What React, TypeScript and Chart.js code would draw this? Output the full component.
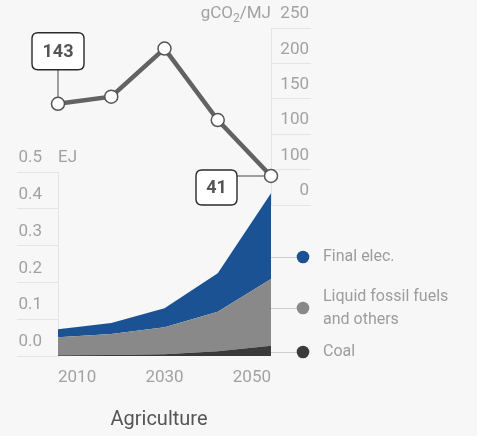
import React, { useEffect, useRef } from 'react';
import Chart from 'chart.js/auto';

// ---- data ----
const years = [2010, 2020, 2030, 2040, 2050];
const xTickYears = [2010, 2030, 2050];
const coal = [0.002, 0.003, 0.005, 0.013, 0.028];
const liquid = [0.049, 0.057, 0.073, 0.107, 0.181];
const finalElec = [0.022, 0.03, 0.052, 0.105, 0.233];
const intensity = [143, 153, 221, 120, 41];
const leftTicks = [0, 0.1, 0.2, 0.3, 0.4, 0.5];
const rightTickValues = [0, 50, 100, 150, 200, 250];
const rightTickLabels = ['0', '100', '100', '150', '200', '250'];
const seriesNames = ['Coal', 'Liquid fossil fuels|and others', 'Final elec.'];
const leftUnit = 'EJ';
const rightUnit = ['gCO', '2', '/MJ'];
const panelTitle = 'Agriculture';

// ---- styles ----
const BG = '#f7f7f7';
const FONT = 'Roboto, "Noto Sans", sans-serif';
const TICK = '#a2a2a2';
const GRID = '#e4e4e4';
const LINE = '#626262';
const seriesColors = ['#3a3a3a', '#898989', '#1b5293'];
const legendY = [352, 308, 257];

const bottomPlugin = {
  id: 'bottomDecor',
  afterDraw(chart: any) {
    const ctx = chart.ctx;
    const ca = chart.chartArea;
    const ys = chart.scales.y;
    ctx.save();
    // unit
    ctx.font = `17px ${FONT}`;
    ctx.fillStyle = TICK;
    ctx.textAlign = 'left';
    ctx.textBaseline = 'middle';
    ctx.fillText(leftUnit, ca.left, ys.getPixelForValue(0.5) - 14);
    // legend
    const dotX = 303;
    for (let i = 0; i < seriesNames.length; i++) {
      const y = legendY[i];
      ctx.strokeStyle = '#cfcfcf';
      ctx.lineWidth = 1;
      ctx.beginPath();
      ctx.moveTo(ca.right, y + 0.5);
      ctx.lineTo(dotX, y + 0.5);
      ctx.stroke();
      ctx.fillStyle = seriesColors[i];
      ctx.beginPath();
      ctx.arc(dotX, y, 6.3, 0, Math.PI * 2);
      ctx.fill();
      ctx.fillStyle = '#9c9c9c';
      ctx.font = `16px ${FONT}`;
      ctx.textAlign = 'left';
      const lines = seriesNames[i].split('|');
      const lh = 23;
      const y0 = y - ((lines.length - 1) * lh) / 2;
      lines.forEach((t, k) => ctx.fillText(t, 323, y0 + k * lh));
    }
    // panel title
    ctx.fillStyle = '#555555';
    ctx.font = `20px ${FONT}`;
    ctx.textAlign = 'center';
    ctx.fillText(panelTitle, 159, 420);
    ctx.restore();
  },
};

function roundRect(ctx: CanvasRenderingContext2D, x: number, y: number, w: number, h: number, r: number) {
  ctx.beginPath();
  ctx.moveTo(x + r, y);
  ctx.lineTo(x + w - r, y);
  ctx.quadraticCurveTo(x + w, y, x + w, y + r);
  ctx.lineTo(x + w, y + h - r);
  ctx.quadraticCurveTo(x + w, y + h, x + w - r, y + h);
  ctx.lineTo(x + r, y + h);
  ctx.quadraticCurveTo(x, y + h, x, y + h - r);
  ctx.lineTo(x, y + r);
  ctx.quadraticCurveTo(x, y, x + r, y);
  ctx.closePath();
}

function callouts(chart: any) {
  const pts = chart.getDatasetMeta(0).data;
  const first = pts[0];
  const last = pts[pts.length - 1];
  return [
    { w: 52, h: 37, x: first.x - 26, y: first.y - 34 - 37, text: String(intensity[0]), cx1: first.x, cy1: first.y - 34, cx2: first.x, cy2: first.y },
    { w: 41, h: 35, x: last.x - 34 - 41, y: last.y - 6, text: String(intensity[intensity.length - 1]), cx1: last.x - 34, cy1: last.y, cx2: last.x, cy2: last.y },
  ];
}

const topPlugin = {
  id: 'topDecor',
  beforeDatasetsDraw(chart: any) {
    const ctx = chart.ctx;
    ctx.save();
    ctx.strokeStyle = '#808080';
    ctx.lineWidth = 1.5;
    for (const c of callouts(chart)) {
      ctx.beginPath();
      ctx.moveTo(c.cx1, c.cy1);
      ctx.lineTo(c.cx2, c.cy2);
      ctx.stroke();
    }
    ctx.restore();
  },
  afterDraw(chart: any) {
    const ctx = chart.ctx;
    const ca = chart.chartArea;
    const ys = chart.scales.y;
    ctx.save();
    for (const c of callouts(chart)) {
      roundRect(ctx, c.x, c.y, c.w, c.h, 6);
      ctx.fillStyle = '#ffffff';
      ctx.fill();
      ctx.strokeStyle = '#2a2a2a';
      ctx.lineWidth = 1.4;
      ctx.stroke();
      ctx.fillStyle = '#555555';
      ctx.font = `bold 18px ${FONT}`;
      ctx.textAlign = 'center';
      ctx.textBaseline = 'middle';
      ctx.fillText(c.text, c.x + c.w / 2, c.y + c.h / 2 + 1);
    }
    // unit label gCO2/MJ
    const big = `17px ${FONT}`;
    const small = `12px ${FONT}`;
    ctx.fillStyle = TICK;
    ctx.textBaseline = 'middle';
    ctx.textAlign = 'left';
    ctx.font = big;
    const w1 = ctx.measureText(rightUnit[0]).width;
    const w3 = ctx.measureText(rightUnit[2]).width;
    ctx.font = small;
    const w2 = ctx.measureText(rightUnit[1]).width;
    const yMid = ys.getPixelForValue(250) - 14;
    let x = ca.right - (w1 + w2 + w3);
    ctx.font = big;
    ctx.fillText(rightUnit[0], x, yMid);
    x += w1;
    ctx.font = small;
    ctx.fillText(rightUnit[1], x, yMid + 5);
    x += w2;
    ctx.font = big;
    ctx.fillText(rightUnit[2], x, yMid);
    ctx.restore();
  },
};

export default function App() {
  const bottomRef = useRef<HTMLCanvasElement>(null);
  const topRef = useRef<HTMLCanvasElement>(null);

  useEffect(() => {
    document.body.style.margin = '0';
    document.body.style.background = BG;
    Chart.defaults.font.family = FONT;

    const stackSeries = [coal, liquid, finalElec];
    const bottom = new Chart(bottomRef.current!, {
      type: 'line',
      data: {
        datasets: stackSeries.map((vals, i) => ({
          label: seriesNames[i],
          data: years.map((x, j) => ({ x, y: vals[j] })),
          backgroundColor: seriesColors[i],
          borderColor: seriesColors[i],
          borderWidth: 0,
          pointRadius: 0,
          fill: i === 0 ? 'origin' : '-1',
          tension: 0,
        })),
      },
      options: {
        responsive: false,
        animation: false,
        events: [],
        layout: { autoPadding: false, padding: { left: 0, right: 206, top: 172, bottom: 0 } },
        plugins: { legend: { display: false }, tooltip: { enabled: false } },
        scales: {
          x: {
            type: 'linear',
            min: 2010,
            max: 2050,
            afterBuildTicks: (s: any) => {
              s.ticks = xTickYears.map((v) => ({ value: v }));
            },
            afterFit: (s: any) => {
              s.height = 80;
            },
            grid: { display: false, drawTicks: false },
            border: { display: false },
            ticks: {
              align: 'inner',
              padding: 12,
              color: TICK,
              font: { size: 17 },
              maxRotation: 0,
              autoSkip: false,
              callback: (v: any) => String(v),
            },
          },
          y: {
            stacked: true,
            min: 0,
            max: 0.5,
            afterBuildTicks: (s: any) => {
              s.ticks = leftTicks.map((v) => ({ value: v }));
            },
            afterFit: (s: any) => {
              s.width = 58;
            },
            grid: { drawOnChartArea: false, drawTicks: true, tickLength: 41, color: GRID },
            border: { display: true, color: GRID },
            ticks: {
              padding: -25,
              labelOffset: -14,
              color: TICK,
              font: { size: 17 },
              callback: (v: any) => Number(v).toFixed(1),
            },
          },
        },
      } as any,
      plugins: [bottomPlugin],
    });

    const top = new Chart(topRef.current!, {
      type: 'line',
      data: {
        datasets: [
          {
            label: 'gCO2/MJ',
            data: years.map((x, j) => ({ x, y: intensity[j] })),
            borderColor: LINE,
            borderWidth: 4.5,
            pointRadius: 6.5,
            pointBackgroundColor: '#ffffff',
            pointBorderColor: '#555555',
            pointBorderWidth: 1.5,
            clip: false,
            tension: 0,
            fill: false,
          },
        ],
      },
      options: {
        responsive: false,
        animation: false,
        events: [],
        layout: { autoPadding: false, padding: { left: 58, right: 168, top: 28, bottom: 231 } },
        plugins: { legend: { display: false }, tooltip: { enabled: false } },
        scales: {
          x: { type: 'linear', min: 2010, max: 2050, display: false },
          y: {
            position: 'right',
            min: 0,
            max: 250,
            afterBuildTicks: (s: any) => {
              s.ticks = rightTickValues.map((v) => ({ value: v }));
            },
            afterFit: (s: any) => {
              s.width = 38;
            },
            grid: { drawOnChartArea: false, drawTicks: true, tickLength: 40, color: GRID },
            border: { display: true, color: GRID },
            ticks: {
              crossAlign: 'far',
              labelOffset: -14,
              color: TICK,
              font: { size: 17 },
              callback: (v: any) => rightTickLabels[rightTickValues.indexOf(Number(v))],
            },
          },
        },
      } as any,
      plugins: [topPlugin],
    });

    return () => {
      bottom.destroy();
      top.destroy();
    };
  }, []);

  const cs: React.CSSProperties = { position: 'absolute', left: 0, top: 0, width: 477, height: 436 };
  return (
    <div style={{ position: 'relative', width: 477, height: 436, background: BG, overflow: 'hidden' }}>
      <canvas ref={bottomRef} width={477} height={436} style={cs} />
      <canvas ref={topRef} width={477} height={436} style={cs} />
    </div>
  );
}
